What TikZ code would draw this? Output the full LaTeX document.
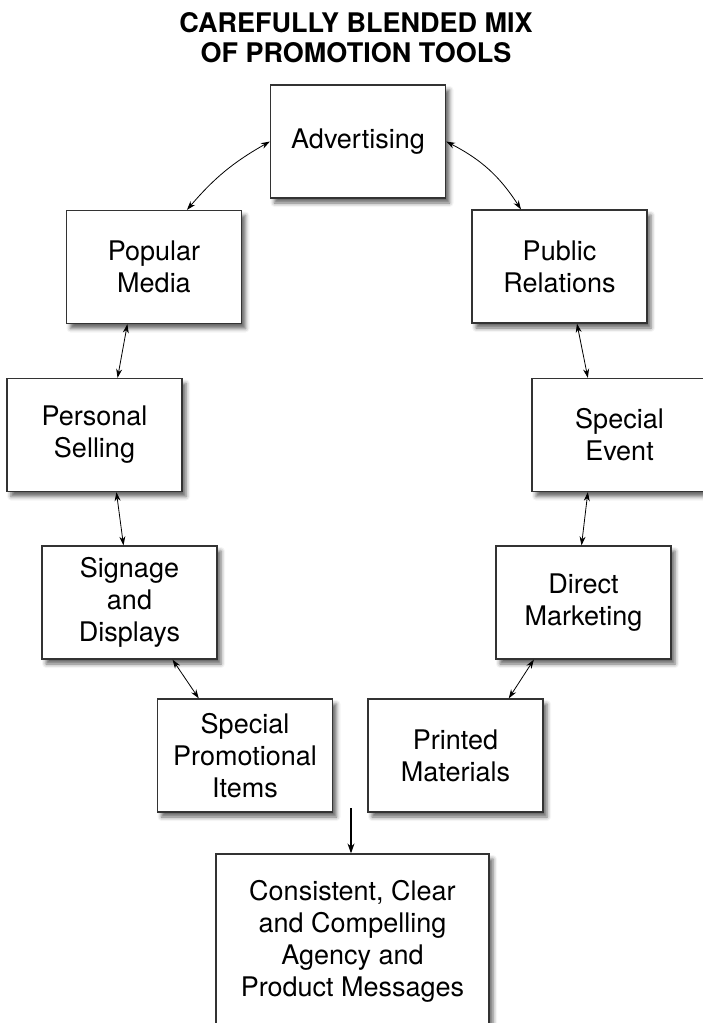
\documentclass[tikz,border=0pt]{standalone}
\usepackage{fontspec}
\setmainfont{TeX Gyre Heros}
\usetikzlibrary{arrows.meta,shadows.blur}
\colorlet{boxBorder}{black!80}
\tikzset{
boxstyle/.style={rectangle, draw=boxBorder, line width=1.2pt, fill=white, minimum width=175pt, minimum height=113pt, inner sep=0pt, align=center, font=\fontsize{27}{32}\selectfont, blur shadow={shadow xshift=4pt, shadow yshift=-5pt, shadow blur radius=4pt, shadow opacity=60}},
linkstyle/.style={{Stealth[length=9pt,width=6pt]}-{Stealth[length=9pt,width=6pt]}, line width=0.8pt},
titlestyle/.style={align=center, font=\bfseries\fontsize{27}{30}\selectfont}
}

\begin{document}
\begin{tikzpicture}[x=1pt, y=-1pt]
\useasboundingbox (0,0) rectangle (702,1023);

\node [titlestyle] (title) at (356, 38) {CAREFULLY BLENDED MIX\\OF PROMOTION TOOLS};

\node [boxstyle] (adv) at (358, 141.5) {Advertising};
\node [boxstyle] (pm) at (154, 267) {Popular\\Media};
\node [boxstyle] (pr) at (559.5, 266.5) {Public\\Relations};
\node [boxstyle] (ps) at (94.5, 435) {Personal\\Selling};
\node [boxstyle] (se) at (619.5, 435) {Special\\Event};
\node [boxstyle] (sd) at (129.5, 602.5) {Signage\\and\\Displays};
\node [boxstyle] (dm) at (583.5, 602.5) {Direct\\Marketing};
\node [boxstyle] (sp) at (245, 755.5) {Special\\Promotional\\Items};
\node [boxstyle] (pmat) at (455.5, 755.5) {Printed\\Materials};
\node [boxstyle, minimum width=273pt, minimum height=174pt] (cc) at (352.5, 941) {Consistent, Clear\\and Compelling\\Agency and\hspace*{0.6em}\\Product Messages};

\draw [linkstyle] (pm.60) to [bend left=10] (adv.180);
\draw [linkstyle] (adv.east) to [bend left=15] (pr.124);
\draw [linkstyle] (pm.245) -- (ps.68);
\draw [linkstyle] (pr.-73) -- (se.119);
\draw [linkstyle] (ps.-69) -- (sd.96);
\draw [linkstyle] (se.-119) -- (dm.92);
\draw [linkstyle] (sd.-53) -- (sp.129);
\draw [linkstyle] (dm.229) -- (pmat.47);

\coordinate (gap) at (351, 808);
\draw [-{Stealth[length=10pt,width=7pt]}, line width=1.2pt] (gap) -- (gap |- cc.north);
\end{tikzpicture}
\end{document}
